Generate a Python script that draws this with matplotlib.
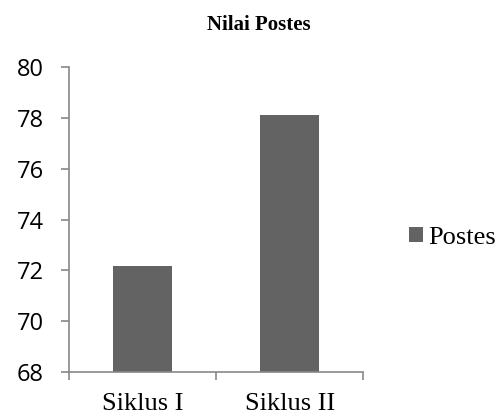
import matplotlib.pyplot as plt
import numpy as np

categories = ["Siklus I", "Siklus II"]
postes = [72.18, 78.13]
yticks = [68, 70, 72, 74, 76, 78, 80]

bar_color = "#636363"
axis_color = "#888888"

fig = plt.figure(figsize=(4.99, 4.16), dpi=100)
ax = fig.add_axes([0.1383, 0.1065, 0.5897, 0.7315])

x = np.arange(len(categories))
ax.bar(x, postes, width=0.4, color=bar_color, label="Postes", zorder=2)

ax.set_xlim(-0.5, len(categories) - 0.5)
ax.set_ylim(68, 80)
ax.set_yticks(yticks)
ax.set_yticklabels([str(v) for v in yticks], fontfamily="Open Sans", fontsize=17)

# category labels sit between the boundary ticks
ax.set_xticks(np.arange(len(categories) + 1) - 0.5)
ax.set_xticklabels([])
ax.set_xticks(x, minor=True)
ax.set_xticklabels(categories, minor=True, fontfamily="Liberation Serif", fontsize=19)
ax.tick_params(axis="x", which="minor", length=0, pad=15)
ax.tick_params(axis="x", which="major", length=5.5, width=1.2, color=axis_color, direction="out")
ax.tick_params(axis="y", length=6, width=1.2, color=axis_color, pad=12)

for side in ["top", "right"]:
    ax.spines[side].set_visible(False)
for side in ["left", "bottom"]:
    ax.spines[side].set_color(axis_color)
    ax.spines[side].set_linewidth(1.2)

fig.text(0.519, 0.94, "Nilai Postes", ha="center", va="center",
         fontfamily="Liberation Serif", fontweight="bold", fontsize=15)

ax.legend(loc="center left", bbox_to_anchor=(1.12, 0.44), frameon=False,
          prop={"family": "Liberation Serif", "size": 19},
          handlelength=0.53, handleheight=0.53, handletextpad=0.2, borderaxespad=0)

fig.savefig("out.png", dpi=100)
